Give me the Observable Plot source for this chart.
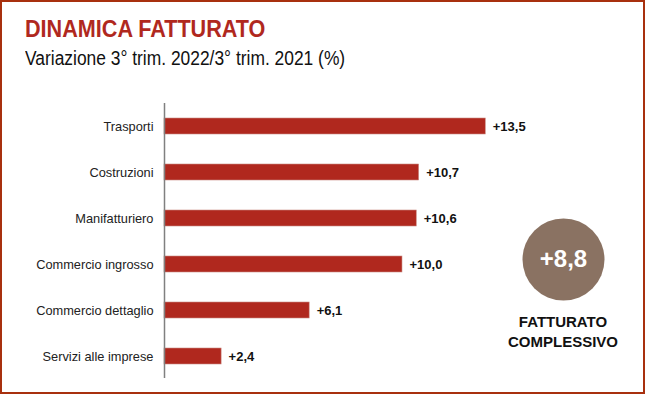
<!DOCTYPE html>
<html>
<head>
<meta charset="utf-8">
<script src="https://cdn.jsdelivr.net/npm/d3@7"></script>
<script src="https://cdn.jsdelivr.net/npm/@observablehq/plot@0.6"></script>
<style>
  html, body { margin: 0; padding: 0; background: #fff; }
  #wrap { position: relative; width: 645px; height: 394px; overflow: hidden; font-family: "Liberation Sans", Arial, sans-serif; }
  #border { position: absolute; left: 0; top: 0; width: 645px; height: 394px; box-sizing: border-box; border: 2px solid #a8300e; pointer-events: none; }
  #title { position: absolute; left: 25px; top: 17px; font-size: 24px; line-height: 24px; font-weight: bold; color: #b0281e; white-space: nowrap; transform: scaleX(0.9); transform-origin: left top; }
  #subtitle { position: absolute; left: 25px; top: 48px; font-size: 20px; line-height: 20px; color: #111; white-space: nowrap; transform: scaleX(0.87); transform-origin: left top; }
  #chart { position: absolute; left: 0; top: 0; }
  #total { position: absolute; left: 513px; top: 209px; }
  #totalLabel { position: absolute; left: 483px; top: 312px; width: 160px; text-align: center; font-size: 15px; line-height: 20px; font-weight: bold; color: #111; }
</style>
</head>
<body>
<div id="wrap">
  <div id="title"></div>
  <div id="subtitle"></div>
  <div id="chart"></div>
  <div id="total"></div>
  <div id="totalLabel"></div>
  <div id="border"></div>
</div>
<script>
const titleText = "DINAMICA FATTURATO";
const subtitleText = "Variazione 3° trim. 2022/3° trim. 2021 (%)";
const categories = ["Trasporti", "Costruzioni", "Manifatturiero", "Commercio ingrosso", "Commercio dettaglio", "Servizi alle imprese"];
const values = [13.5, 10.7, 10.6, 10.0, 6.1, 2.4];
const totalValue = 8.8;
const totalLabelLines = ["FATTURATO", "COMPLESSIVO"];

const fmt = v => "+" + v.toFixed(1).replace(".", ",");
const data = categories.map((c, i) => ({category: c, value: values[i]}));

document.getElementById("title").textContent = titleText;
document.getElementById("subtitle").textContent = subtitleText;
document.getElementById("totalLabel").innerHTML = totalLabelLines.join("<br>");

const chart = Plot.plot({
  width: 540,
  height: 394,
  marginLeft: 164,
  marginRight: 0,
  marginTop: 103,
  marginBottom: 16,
  style: {fontFamily: "'Liberation Sans', Arial, sans-serif", color: "#222", background: "transparent"},
  x: {domain: [0, 15.8], axis: null},
  y: {domain: categories, paddingInner: 0.654, paddingOuter: 0.303, axis: null},
  marks: [
    Plot.barX(data, {x: "value", y: "category", fill: "#b0281e", stroke: "#c98a82", strokeWidth: 0.6}),
    Plot.ruleX([0], {stroke: "#808080", strokeWidth: 1.5}),
    Plot.axisY({tickSize: 0, tickPadding: 11, fontSize: 12.8, color: "#222", label: null}),
    Plot.text(data, {x: "value", y: "category", text: d => fmt(d.value), dx: 7, textAnchor: "start", fontWeight: "bold", fontSize: 13, fill: "#111"})
  ]
});
document.getElementById("chart").appendChild(chart);

const total = Plot.plot({
  width: 100,
  height: 100,
  margin: 0,
  style: {fontFamily: "'Liberation Sans', Arial, sans-serif", background: "transparent"},
  marks: [
    Plot.dot([totalValue], {frameAnchor: "middle", r: 41, fill: "#8a7262", stroke: "none"}),
    Plot.text([totalValue], {frameAnchor: "middle", text: d => fmt(d), fill: "#fff", fontSize: 24, fontWeight: "bold"})
  ]
});
document.getElementById("total").appendChild(total);
</script>
</body>
</html>
